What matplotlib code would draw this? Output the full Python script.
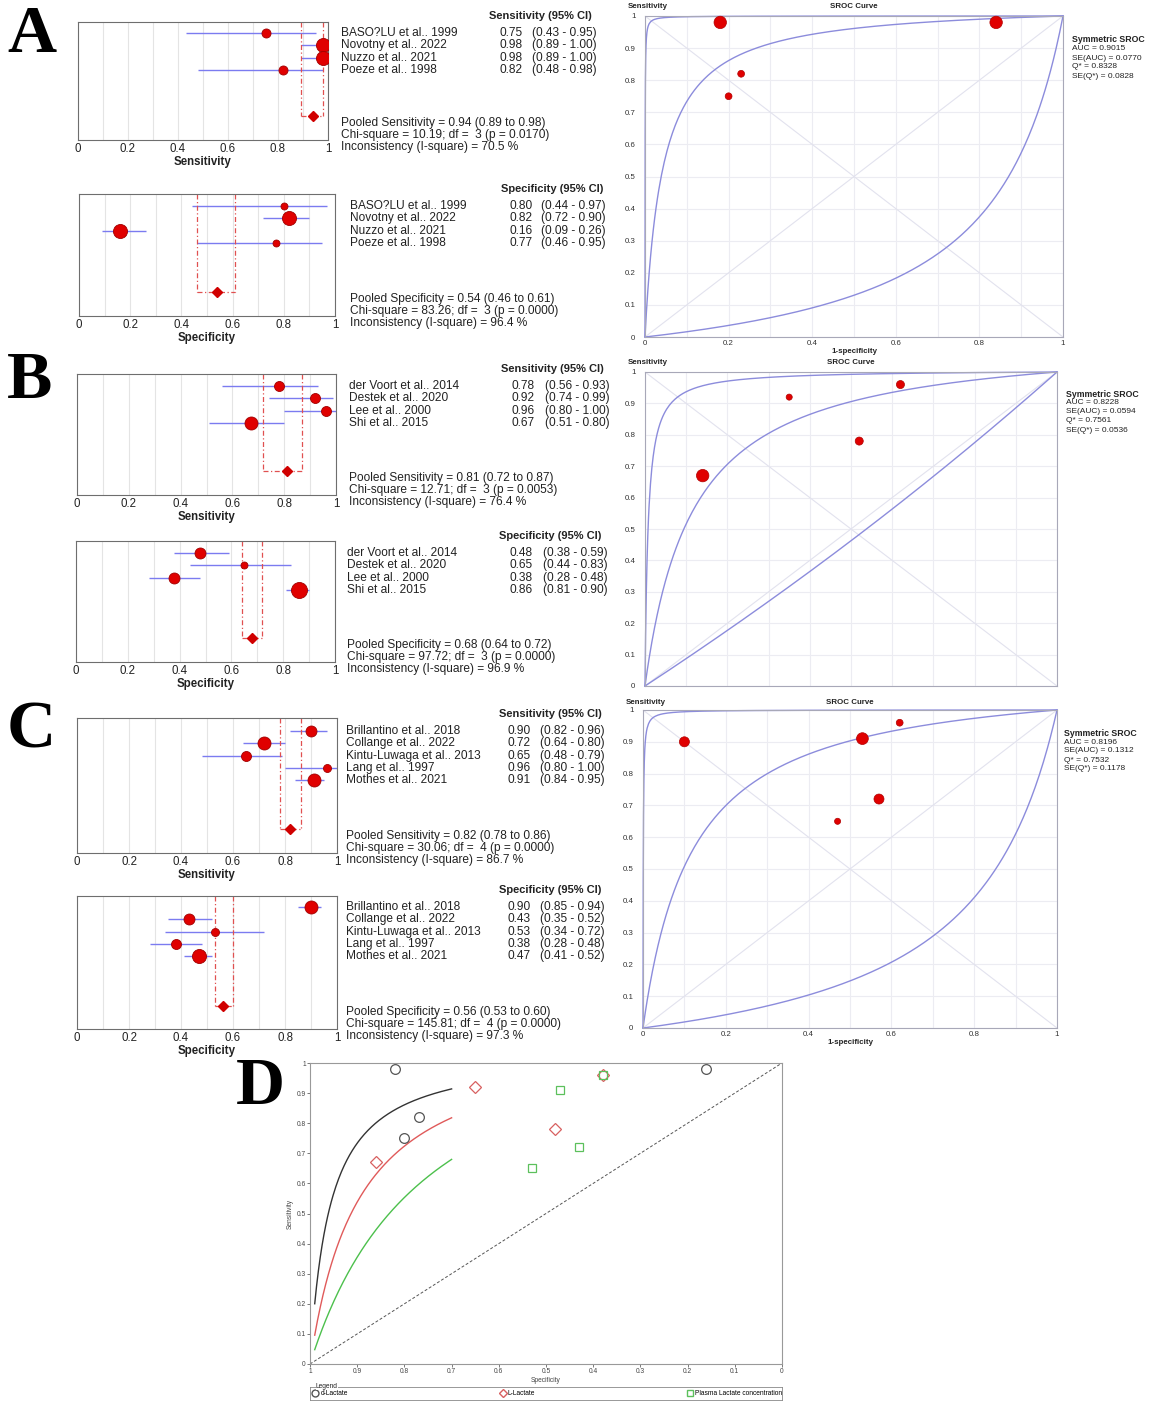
import numpy as np
import matplotlib
matplotlib.use("Agg")
import matplotlib.pyplot as plt
from matplotlib import transforms
from matplotlib.lines import Line2D

W, H = 1152, 1401
plt.rcParams['font.family'] = ['Liberation Sans', 'DejaVu Sans']

# ---- A: d-Lactate
a_names = ["BASO?LU et al.. 1999", "Novotny et al.. 2022", "Nuzzo et al.. 2021", "Poeze et al.. 1998"]
a_sens = [0.75, 0.98, 0.98, 0.82]
a_sens_lo = [0.43, 0.89, 0.89, 0.48]
a_sens_hi = [0.95, 1.00, 1.00, 0.98]
a_sens_w = [0.32, 0.77, 0.77, 0.32]
a_spec = [0.80, 0.82, 0.16, 0.77]
a_spec_lo = [0.44, 0.72, 0.09, 0.46]
a_spec_hi = [0.97, 0.90, 0.26, 0.95]
a_spec_w = [0.19, 0.77, 0.77, 0.19]
a_pooled_sens = [0.94, 0.89, 0.98]
a_sens_stats = [10.19, 3, 0.0170, 70.5]   # chi2, df, p, I2
a_pooled_spec = [0.54, 0.46, 0.61]
a_spec_stats = [83.26, 3, 0.0000, 96.4]
a_sroc_w = [0.3, 1.0, 1.0, 0.3]
a_sroc_stats = [0.9015, 0.0770, 0.8328, 0.0828]  # AUC, SE(AUC), Q*, SE(Q*)
a_band = [-1.9, 8.3]

# ---- B: L-Lactate
b_names = ["der Voort et al.. 2014", "Destek et al.. 2020", "Lee et al.. 2000", "Shi et al.. 2015"]
b_sens = [0.78, 0.92, 0.96, 0.67]
b_sens_lo = [0.56, 0.74, 0.80, 0.51]
b_sens_hi = [0.93, 0.99, 1.00, 0.80]
b_sens_w = [0.39, 0.39, 0.39, 0.66]
b_spec = [0.48, 0.65, 0.38, 0.86]
b_spec_lo = [0.38, 0.44, 0.28, 0.81]
b_spec_hi = [0.59, 0.83, 0.48, 0.90]
b_spec_w = [0.47, 0.19, 0.47, 1.0]
b_pooled_sens = [0.81, 0.72, 0.87]
b_sens_stats = [12.71, 3, 0.0053, 76.4]
b_pooled_spec = [0.68, 0.64, 0.72]
b_spec_stats = [97.72, 3, 0.0000, 96.9]
b_sroc_w = [0.42, 0.24, 0.42, 1.0]
b_sroc_stats = [0.8228, 0.0594, 0.7561, 0.0536]
b_band = [-0.15, 4.9]

# ---- C: plasma lactate
c_names = ["Brillantino et al.. 2018", "Collange et al.. 2022", "Kintu-Luwaga et al.. 2013",
           "Lang et al.. 1997", "Mothes et al.. 2021"]
c_sens = [0.90, 0.72, 0.65, 0.96, 0.91]
c_sens_lo = [0.82, 0.64, 0.48, 0.80, 0.84]
c_sens_hi = [0.96, 0.80, 0.79, 1.00, 0.95]
c_sens_w = [0.47, 0.66, 0.39, 0.25, 0.66]
c_spec = [0.90, 0.43, 0.53, 0.38, 0.47]
c_spec_lo = [0.85, 0.35, 0.34, 0.28, 0.41]
c_spec_hi = [0.94, 0.52, 0.72, 0.48, 0.52]
c_spec_w = [0.66, 0.47, 0.25, 0.39, 0.77]
c_pooled_sens = [0.82, 0.78, 0.86]
c_sens_stats = [30.06, 4, 0.0000, 86.7]
c_pooled_spec = [0.56, 0.53, 0.60]
c_spec_stats = [145.81, 4, 0.0000, 97.3]
c_sroc_w = [0.65, 0.65, 0.24, 0.3, 0.9]
c_sroc_stats = [0.8196, 0.1312, 0.7532, 0.1178]
c_band = [-1.75, 7.4]

# ---- D: comparison
d_labels = ["d-Lactate", "L-Lactate", "Plasma Lactate concentration"]
d_curve_a = [3.21, 2.35, 1.6]

fig = plt.figure(figsize=(W / 100, H / 100), dpi=100)


def px_axes(x0, y0, x1, y1):
    return fig.add_axes([x0 / W, 1 - y1 / H, (x1 - x0) / W, (y1 - y0) / H])


def ftext(x, y, s, **kw):
    kw.setdefault('va', 'center')
    kw.setdefault('color', '#222222')
    return fig.text(x / W, 1 - y / H, s, **kw)


def moses(fpr, a):
    fpr = np.asarray(fpr)
    return 1 / (1 + np.exp(-a) * (1 - fpr) / fpr)


FS = 8.6


def forest(box, row0, diamond, cols, names, est, lo, hi, w, pooled, stats, kind):
    x0, x1, top, bot = box
    nx, vx, cx, hx = cols
    sp = 12.3
    ax = px_axes(x0, top, x1, bot)
    ax.set_xlim(0, 1)
    ax.set_ylim((bot - row0) / sp, (top - row0) / sp)
    ax.set_xticks(np.arange(0, 1.01, 0.2))
    ax.set_xticks(np.arange(0, 1.01, 0.1), minor=True)
    ax.set_xticklabels(['0', '0.2', '0.4', '0.6', '0.8', '1'])
    ax.set_yticks([])
    ax.grid(which='both', axis='x', color='#e4e4e4', lw=0.8)
    ax.tick_params(axis='x', which='both', length=0, pad=2.5, labelsize=8.3, colors='#222222')
    for s in ax.spines.values():
        s.set_color('#6e6e6e')
    rows = np.arange(len(names))
    ax.hlines(rows, lo, hi, color='#7b7bf0', lw=1, zorder=2)
    for i in rows:
        ax.plot(est[i], i, 'o', ms=2 * 8 * np.sqrt(w[i]) * 0.72, mfc='#e00000',
                mec='#a00000', mew=0.6, zorder=3)
    yd = (diamond - row0) / sp
    yt = (top - row0) / sp
    ls = (0, (4, 2, 1, 2))
    ax.vlines([pooled[1], pooled[2]], yt, yd, colors='#e05050', linestyles=ls, lw=0.9)
    ax.hlines(yd, pooled[1], pooled[2], colors='#e05050', linestyles=ls, lw=0.9)
    ax.plot(pooled[0], yd, 'D', ms=5, color='#d00000', zorder=4)
    ax.set_xlabel(kind, fontsize=8.3, weight='bold', labelpad=0.5, color='#222222')

    tr = transforms.blended_transform_factory(fig.transFigure, ax.transData)
    for i in rows:
        ax.text(nx / W, i, names[i], transform=tr, va='center', fontsize=FS, color='#222222')
        ax.text(vx / W, i, f'{est[i]:.2f}', transform=tr, va='center', fontsize=FS, color='#222222')
        ax.text(cx / W, i, f'({lo[i]:.2f} - {hi[i]:.2f})', transform=tr, va='center',
                fontsize=FS, color='#222222')
    ftext(hx, row0 - 17, f'{kind} (95% CI)', fontsize=8.0, weight='bold', ha='center')
    chi, df, p, i2 = stats
    ftext(nx, bot - 17, f'Pooled {kind} = {pooled[0]:.2f} ({pooled[1]:.2f} to {pooled[2]:.2f})', fontsize=FS)
    ftext(nx, bot - 5, f'Chi-square = {chi:.2f}; df =  {df} (p = {p:.4f})', fontsize=FS)
    ftext(nx, bot + 7, f'Inconsistency (I-square) = {i2:.1f} %', fontsize=FS)


def sroc(box, head_y, note_xy, spec, sens, w, stats, band, show_x=True):
    x0, x1, top, bot = box
    ax = px_axes(x0, top, x1, bot)
    ax.set_xlim(0, 1)
    ax.set_ylim(0, 1)
    ax.set_xticks(np.arange(0, 1.01, 0.2))
    ax.set_xticks(np.arange(0, 1.01, 0.1), minor=True)
    ax.set_yticks(np.arange(0, 1.01, 0.1))
    ax.set_xticklabels([f'{v:g}' for v in np.round(np.arange(0, 1.01, 0.2), 1)])
    ax.set_yticklabels([f'{v:g}' for v in np.round(np.arange(0, 1.01, 0.1), 1)])
    ax.grid(which='both', color='#ececf2', lw=0.8)
    ax.tick_params(which='both', length=0, labelsize=5.7, colors='#333333')
    ax.tick_params(axis='y', pad=7)
    ax.tick_params(axis='x', pad=2, labelbottom=show_x)
    for s in ax.spines.values():
        s.set_color('#a8a8b8')
    ax.plot([0, 1], [0, 1], color='#e2e2ee', lw=0.8)
    ax.plot([0, 1], [1, 0], color='#e2e2ee', lw=0.8)
    g = np.concatenate([np.geomspace(1e-7, 0.01, 150), np.linspace(0.01, 0.99, 300),
                        1 - np.geomspace(0.01, 1e-7, 150)])
    q = stats[2]
    a_mid = 2 * np.log(q / (1 - q))
    for a in (band[0], a_mid, band[1]):
        ax.plot(g, moses(g, a), color='#8c8cdc', lw=1, clip_on=False)
    fpr = 1 - np.array(spec)
    ax.scatter(fpr, sens, s=np.array(w) * 80, c='#e00000', edgecolors='#b00000',
               linewidths=0.5, zorder=4, clip_on=False)
    ftext(x0 - 17, head_y, 'Sensitivity', fontsize=5.7, weight='bold', ha='left')
    ftext((x0 + x1) / 2, head_y, 'SROC Curve', fontsize=5.7, weight='bold', ha='center')
    if show_x:
        ax.set_xlabel('1-specificity', fontsize=5.7, weight='bold', labelpad=1, color='#222222')
    nx, ny = note_xy
    auc, se_auc, qs, se_q = stats
    ftext(nx, ny, 'Symmetric SROC', fontsize=6.3, weight='bold', ha='left')
    lines = [f'AUC = {auc:.4f}', f'SE(AUC) = {se_auc:.4f}', f'Q* = {qs:.4f}', f'SE(Q*) = {se_q:.4f}']
    for k, t in enumerate(lines):
        ftext(nx, ny + 9 * (k + 1), t, fontsize=6.0, ha='left')


# panel A
forest((78, 328, 22, 140), 33, 116, (341, 500, 532, 540), a_names, a_sens, a_sens_lo, a_sens_hi,
       a_sens_w, a_pooled_sens, a_sens_stats, 'Sensitivity')
forest((79, 335, 194, 316), 206, 292, (350, 510, 541, 552), a_names, a_spec, a_spec_lo, a_spec_hi,
       a_spec_w, a_pooled_spec, a_spec_stats, 'Specificity')
sroc((645, 1063, 16, 337), 7, (1072, 40), a_spec, a_sens, a_sroc_w, a_sroc_stats, a_band)

# panel B
forest((77, 336, 374, 495), 386, 471, (349, 512, 545, 552), b_names, b_sens, b_sens_lo, b_sens_hi,
       b_sens_w, b_pooled_sens, b_sens_stats, 'Sensitivity')
forest((76, 335, 541, 662), 553, 638, (347, 510, 543, 550), b_names, b_spec, b_spec_lo, b_spec_hi,
       b_spec_w, b_pooled_spec, b_spec_stats, 'Specificity')
sroc((645, 1057, 372, 686), 362, (1066, 394), b_spec, b_sens, b_sroc_w, b_sroc_stats, b_band,
     show_x=False)

# panel C
forest((77, 337, 718, 853), 731, 829, (346, 508, 540, 550), c_names, c_sens, c_sens_lo, c_sens_hi,
       c_sens_w, c_pooled_sens, c_sens_stats, 'Sensitivity')
forest((77, 337, 896, 1029), 907, 1006, (346, 508, 540, 550), c_names, c_spec, c_spec_lo, c_spec_hi,
       c_spec_w, c_pooled_spec, c_spec_stats, 'Specificity')
sroc((643, 1057, 710, 1028), 702, (1064, 733), c_spec, c_sens, c_sroc_w, c_sroc_stats, c_band)

# panel D
axd = px_axes(310, 1063, 782, 1364)
axd.set_xlim(1, 0)
axd.set_ylim(0, 1)
ticks = np.round(np.arange(0, 1.01, 0.1), 1)
axd.set_xticks(ticks)
axd.set_xticklabels([f'{v:g}' for v in ticks])
axd.set_yticks(ticks)
axd.set_yticklabels([f'{v:g}' for v in ticks])
axd.tick_params(labelsize=4.8, length=2, width=0.5, pad=1, colors='#444444')
for s in axd.spines.values():
    s.set_color('#999999')
    s.set_linewidth(0.8)
axd.set_xlabel('Specificity', fontsize=4.8, labelpad=1, color='#444444')
axd.set_ylabel('Sensitivity', fontsize=4.8, labelpad=2, color='#444444')
axd.plot([1, 0], [0, 1], ls=(0, (3, 2)), color='#555555', lw=0.7)
d_cols = ['#333333', '#e05a5a', '#4cc04c']
fd = np.linspace(0.01, 0.30, 150)
for a, col in zip(d_curve_a, d_cols):
    axd.plot(1 - fd, moses(fd, a), color=col, lw=1)
# Brillantino (first plasma study) is not drawn in the comparison plot
axd.plot(a_spec, a_sens, 'o', ls='none', mfc='none', mec='#555555', ms=7, mew=0.9)
axd.plot(b_spec, b_sens, 'D', ls='none', mfc='none', mec='#d86060', ms=6.5, mew=0.9)
axd.plot(c_spec[1:], c_sens[1:], 's', ls='none', mfc='none', mec='#5cc05c', ms=6, mew=0.9)

lax = px_axes(310, 1387, 782, 1400)
lax.set_xticks([])
lax.set_yticks([])
for s in lax.spines.values():
    s.set_color('#888888')
    s.set_linewidth(0.6)
handles = [Line2D([], [], marker='o', ls='none', mfc='none', mec='#555555', ms=5),
           Line2D([], [], marker='D', ls='none', mfc='none', mec='#d86060', ms=4.5),
           Line2D([], [], marker='s', ls='none', mfc='none', mec='#5cc05c', ms=4.5)]
lax.legend(handles, d_labels, ncol=3, mode='expand', loc='center', bbox_to_anchor=(0.006, 0, 0.994, 1),
           frameon=False, fontsize=4.8, handlelength=0.8, handletextpad=0.4, borderaxespad=0,
           borderpad=0)
ftext(316, 1386, 'Legend', fontsize=4.8, ha='left',
      bbox=dict(fc='white', ec='none', pad=0.3))

# panel letters
for lab, (lx, ly) in zip('ABCD', [(7, 52), (7, 398), (7, 747), (236, 1104)]):
    ftext(lx, ly, lab, fontsize=49, weight='bold', family='Liberation Serif', va='baseline',
          color='black')

fig.savefig('out.png', dpi=100)
